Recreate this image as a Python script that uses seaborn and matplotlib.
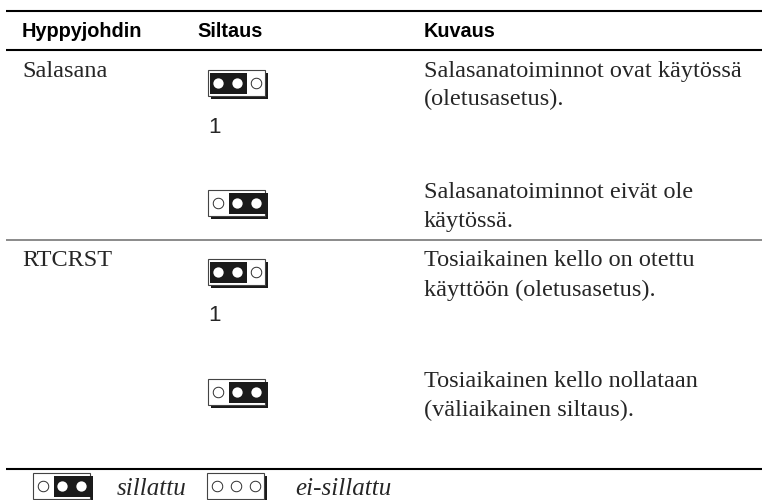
import matplotlib
matplotlib.use("Agg")
import matplotlib.pyplot as plt
from matplotlib.patches import Rectangle
import pandas as pd
import seaborn as sns

HEADERS = ["Hyppyjohdin", "Siltaus", "Kuvaus"]
HEADER_X = [22, 197, 424]
JUMPER_NAMES = ["Salasana", "RTCRST"]
JUMPER_NAME_Y = [77, 266]
DESC_LINES = [
    "Salasanatoiminnot ovat käytössä", "(oletusasetus).",
    "Salasanatoiminnot eivät ole", "käytössä.",
    "Tosiaikainen kello on otettu", "käyttöön (oletusasetus).",
    "Tosiaikainen kello nollataan", "(väliaikainen siltaus).",
]
DESC_Y = [77, 105, 198, 227, 266, 296, 387, 416]
# left edge, top edge, first bridged pin (None = open)
JUMPERS = [(208, 70, 0), (208, 190, 1), (208, 259, 0), (208, 379, 1), (33, 473, 1), (207, 473, None)]
ONE_Y = [133, 321]
LEGEND_LABELS = ["sillattu", "ei-sillattu"]
LEGEND_X = [117, 295]

sns.set_theme(style="white")
fig, ax = plt.subplots(figsize=(7.62, 5.0), dpi=100)
ax.set_position([0, 0, 1, 1])

SERIF = ["Liberation Serif", "DejaVu Serif"]
SANS = ["Liberation Sans", "DejaVu Sans"]
INK = "#262626"

# rules
for y in [10.5, 50, 469]:
    ax.plot([6, 762], [y, y], color="black", lw=1.5, solid_capstyle="butt")
ax.plot([6, 762], [240, 240], color="#777777", lw=1.2, solid_capstyle="butt")

for x, h in zip(HEADER_X, HEADERS):
    ax.text(x, 37, h, family=SANS, fontsize=14.3, weight="bold", color="black")

for y, name in zip(JUMPER_NAME_Y, JUMPER_NAMES):
    ax.text(22, y, name, family=SERIF, fontsize=17.5, color=INK)

for y, line in zip(DESC_Y, DESC_LINES):
    ax.text(424, y, line, family=SERIF, fontsize=17.5, color=INK)

for y in ONE_Y:
    ax.text(215, y, "1", family=SANS, fontsize=16, color=INK, ha="center")

pins = []
for left, top, bridge in JUMPERS:
    ax.add_patch(Rectangle((left + 3, top + 3), 57, 26, color="#1a1a1a", lw=0, zorder=1))
    ax.add_patch(Rectangle((left, top), 57, 26, fc="white", ec="#444444", lw=0.8, zorder=2))
    if bridge is not None:
        ax.add_patch(Rectangle((left + 2 + 19 * bridge, top + 3), 37, 21, color="#1a1a1a", lw=0, zorder=3))
    for i in range(3):
        closed = bridge is not None and bridge <= i <= bridge + 1
        pins.append({"x": left + 10 + 19 * i, "y": top + 13, "closed": closed})
pins = pd.DataFrame(pins)
open_pins = pins[~pins.closed]

sns.scatterplot(data=pins[pins.closed], x="x", y="y", s=55, color="white", linewidth=0, ax=ax, zorder=4, legend=False)
# dark ring round the open pins, heavier at the lower left
sns.scatterplot(x=open_pins.x - 0.2, y=open_pins.y + 0.2, s=68, color="#222222", linewidth=0, ax=ax, zorder=4, legend=False)
sns.scatterplot(x=open_pins.x + 0.3, y=open_pins.y - 0.3, s=48, color="white", linewidth=0, ax=ax, zorder=5, legend=False)

for x, label in zip(LEGEND_X, LEGEND_LABELS):
    ax.text(x, 495, label, family=SERIF, style="italic", fontsize=18, color=INK)

ax.set_xlim(0, 762)
ax.set_ylim(500, 0)
ax.axis("off")

fig.savefig("out.png", dpi=100)
